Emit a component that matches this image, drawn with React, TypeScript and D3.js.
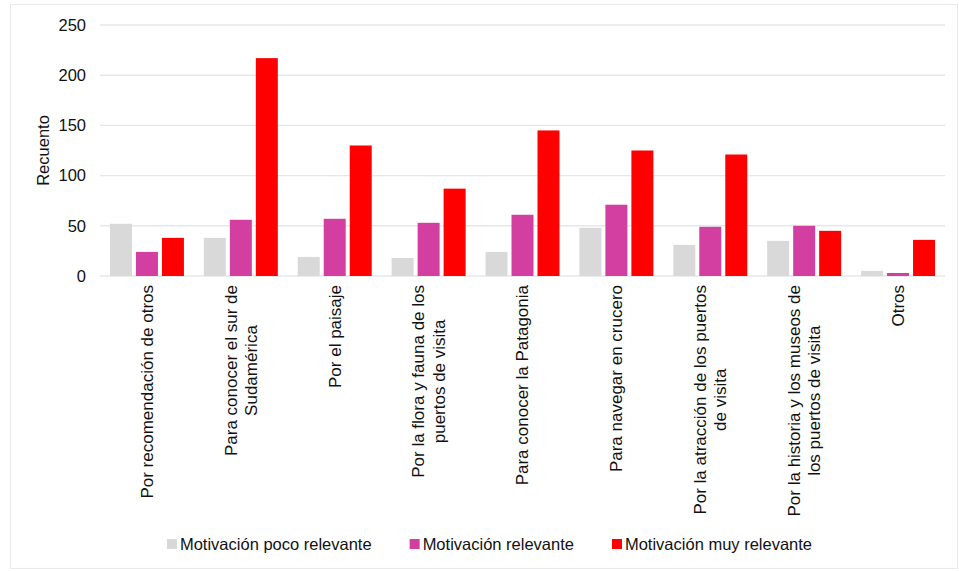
import React from "react";
import * as d3 from "d3";

const categories: string[][] = [
  ["Por recomendación de otros"],
  ["Para conocer el sur de", "Sudamérica"],
  ["Por el paisaje"],
  ["Por la flora y fauna de los", "puertos de visita"],
  ["Para conocer la Patagonia"],
  ["Para navegar en crucero"],
  ["Por la atracción de los puertos", "de visita"],
  ["Por la historia y los museos de", "los puertos de visita"],
  ["Otros"],
];

const seriesNames = [
  "Motivación poco relevante",
  "Motivación relevante",
  "Motivación muy relevante",
];

const pocoRelevante = [52, 38, 19, 18, 24, 48, 31, 35, 5];
const relevante = [24, 56, 57, 53, 61, 71, 49, 50, 3];
const muyRelevante = [38, 217, 130, 87, 145, 125, 121, 45, 36];

const yTicks = [0, 50, 100, 150, 200, 250];
const yTitle = "Recuento";

const colors = ["#D9D9D9", "#D23FA0", "#FF0000"];

const W = 959;
const H = 571;
const FONT = "'Liberation Sans', Arial, Helvetica, sans-serif";
const FS = 16.5;
const FS_CAT = 17;

let ctx: CanvasRenderingContext2D | null = null;
function measure(s: string, fs: number): number {
  if (!ctx) {
    const c = document.createElement("canvas");
    ctx = c.getContext("2d");
  }
  if (!ctx) return s.length * fs * 0.5;
  ctx.font = `${fs}px "Liberation Sans", Arial, sans-serif`;
  return ctx.measureText(s).width;
}

export default function App() {
  const seriesData = [pocoRelevante, relevante, muyRelevante];
  const keys = categories.map((c) => c.join(" "));

  const x0 = d3.scaleBand<string>().domain(keys).range([100, 945]).padding(0);
  const x1 = d3
    .scaleBand<string>()
    .domain(seriesNames)
    .range([0, x0.bandwidth()])
    .paddingInner(0.154)
    .paddingOuter(0.383);
  const y = d3.scaleLinear().domain([0, 250]).range([276, 25]);

  // legend layout
  const sq = 10;
  const gapSqText = 3;
  const gapItems = 38;
  const widths = seriesNames.map((s) => measure(s, FS));
  const total =
    widths.reduce((a, b) => a + b, 0) + seriesNames.length * (sq + gapSqText) + gapItems * (seriesNames.length - 1);
  let lx = 489.5 - total / 2;
  const legendItems = seriesNames.map((s, i) => {
    const item = { name: s, x: lx, color: colors[i] };
    lx += sq + gapSqText + widths[i] + gapItems;
    return item;
  });

  const labelTop = 285;
  const lineH = 20.5;

  return (
    <svg
      width={W}
      height={H}
      style={{ position: "absolute", left: 0, top: 0, background: "#fff" }}
      fontFamily={FONT}
    >
      <rect x={10.5} y={4.5} width={947} height={564} fill="#fff" stroke="#E6E9EF" strokeWidth={1} />
      {yTicks.map((t) => (
        <g key={t}>
          <line x1={100} x2={945} y1={y(t)} y2={y(t)} stroke="#E4E7ED" strokeWidth={1.4} />
          <text x={86} y={y(t)} dy="0.35em" textAnchor="end" fontSize={FS} fill="#111">
            {t}
          </text>
        </g>
      ))}
      <text
        transform={`translate(43,${(y(0) + y(250)) / 2}) rotate(-90)`}
        textAnchor="middle"
        dy="0.35em"
        fontSize={FS}
        fill="#111"
      >
        {yTitle}
      </text>
      {keys.map((k, ci) => (
        <g key={k} transform={`translate(${x0(k)},0)`}>
          {seriesNames.map((s, si) => {
            const v = seriesData[si][ci];
            return (
              <rect
                key={s}
                x={x1(s)}
                y={y(v)}
                width={x1.bandwidth()}
                height={y(0) - y(v)}
                fill={colors[si]}
              />
            );
          })}
        </g>
      ))}
      {categories.map((lines, ci) => {
        const cx = (x0(keys[ci]) as number) + x0.bandwidth() / 2;
        const maxW = Math.max(...lines.map((l) => measure(l, FS_CAT)));
        const cyText = labelTop + maxW / 2;
        const n = lines.length;
        return (
          <g key={ci}>
            {lines.map((l, li) => {
              const off = (li - (n - 1) / 2) * lineH;
              return (
                <text
                  key={li}
                  transform={`translate(${cx + off},${cyText}) rotate(-90)`}
                  textAnchor="middle"
                  dy="0.35em"
                  fontSize={FS_CAT}
                  fill="#111"
                >
                  {l}
                </text>
              );
            })}
          </g>
        );
      })}
      {legendItems.map((it) => (
        <g key={it.name}>
          <rect x={it.x} y={539} width={sq} height={sq} fill={it.color} />
          <text x={it.x + sq + gapSqText} y={544} dy="0.35em" fontSize={FS} fill="#111">
            {it.name}
          </text>
        </g>
      ))}
    </svg>
  );
}
